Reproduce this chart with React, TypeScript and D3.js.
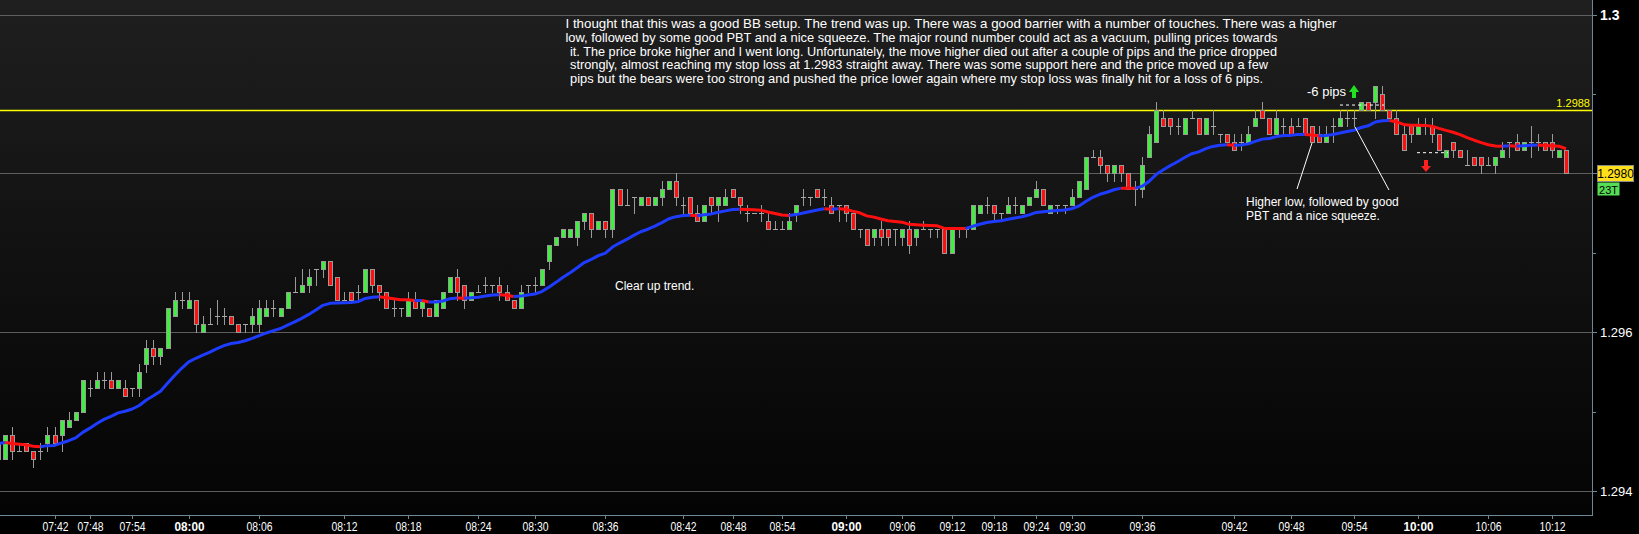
import React from "react";
import * as d3 from "d3";

// ---------- DATA (EUR/USD, 23-tick candles) ----------
const opens = [
  1.2944,1.2944,1.2947,1.2945,1.2946,1.2945,1.2945,1.2946,1.2947,1.2947,
  1.2948,1.2949,1.2950,1.2953,1.2953,1.2954,1.2954,1.2953,1.2953,1.2953,
  1.2953,1.2956,1.2958,1.2957,1.2958,1.2962,1.2964,1.2963,1.2964,1.2960,
  1.2961,1.2962,1.2962,1.2962,1.2961,1.2961,1.2961,1.2961,1.2962,1.2963,
  1.2962,1.2963,1.2965,1.2965,1.2966,1.2968,1.2968,1.2969,1.2967,1.2964,
  1.2965,1.2965,1.2965,1.2968,1.2966,1.2965,1.2963,1.2963,1.2962,1.2964,
  1.2963,1.2963,1.2962,1.2963,1.2965,1.2967,1.2966,1.2964,1.2965,1.2966,
  1.2966,1.2966,1.2965,1.2964,1.2963,1.2966,1.2966,1.2966,1.2969,1.2971,
  1.2972,1.2972,1.2972,1.2974,1.2975,1.2973,1.2974,1.2973,1.2978,1.2976,
  1.2977,1.2976,1.2977,1.2976,1.2977,1.2978,1.2979,1.2976,1.2977,1.2975,
  1.2974,1.2977,1.2976,1.2976,1.2978,1.2977,1.2975,1.2975,1.2975,1.2974,
  1.2973,1.2973,1.2973,1.2975,1.2977,1.2977,1.2978,1.2977,1.2976,1.2976,
  1.2976,1.2975,1.2973,1.2973,1.2972,1.2973,1.2973,1.2973,1.2972,1.2973,
  1.2972,1.2973,1.2973,1.2973,1.2973,1.2970,1.2973,1.2973,1.2973,1.2975,
  1.2976,1.2976,1.2975,1.2975,1.2976,1.2975,1.2976,1.2977,1.2978,1.2975,
  1.2976,1.2976,1.2976,1.2977,1.2978,1.2982,1.2982,1.2981,1.2980,1.2981,
  1.2980,1.2978,1.2978,1.2982,1.2984,1.2987,1.2987,1.2986,1.2985,1.2987,
  1.2987,1.2985,1.2986,1.2985,1.2985,1.2984,1.2984,1.2984,1.2986,1.2988,
  1.2987,1.2985,1.2986,1.2986,1.2986,1.2987,1.2986,1.2985,1.2984,1.2986,
  1.2986,1.2987,1.2987,1.2988,1.2989,1.2989,1.2990,1.2988,1.2987,1.2985,
  1.2986,1.2985,1.2986,1.2986,1.2985,1.2982,1.2984,1.2983,1.2981,1.2982,
  1.2982,1.2981,1.2981,1.2982,1.2984,1.2984,1.2983,1.2984,1.2984,1.2984,1.2984,1.2982,1.2983,
];
const highs = [
  1.2948,1.2947,1.2948,1.2946,1.2946,1.2945,1.2946,1.2948,1.2948,1.2949,
  1.2950,1.2950,1.2954,1.2954,1.2955,1.2955,1.2955,1.2954,1.2954,1.2953,
  1.2956,1.2959,1.2959,1.2958,1.2963,1.2965,1.2965,1.2965,1.2964,1.2962,
  1.2963,1.2964,1.2963,1.2962,1.2961,1.2961,1.2963,1.2964,1.2964,1.2964,
  1.2963,1.2965,1.2967,1.2968,1.2968,1.2968,1.2969,1.2969,1.2967,1.2965,
  1.2965,1.2966,1.2968,1.2968,1.2966,1.2965,1.2964,1.2963,1.2965,1.2965,
  1.2964,1.2963,1.2964,1.2965,1.2967,1.2968,1.2966,1.2965,1.2966,1.2967,
  1.2966,1.2967,1.2966,1.2964,1.2966,1.2966,1.2967,1.2968,1.2971,1.2972,
  1.2973,1.2973,1.2974,1.2975,1.2975,1.2974,1.2974,1.2978,1.2978,1.2978,
  1.2977,1.2977,1.2977,1.2977,1.2979,1.2979,1.2980,1.2977,1.2977,1.2976,
  1.2976,1.2977,1.2977,1.2978,1.2978,1.2977,1.2976,1.2975,1.2976,1.2975,
  1.2974,1.2974,1.2975,1.2976,1.2978,1.2977,1.2978,1.2978,1.2977,1.2976,
  1.2976,1.2975,1.2973,1.2973,1.2973,1.2974,1.2973,1.2973,1.2973,1.2974,
  1.2973,1.2974,1.2973,1.2973,1.2973,1.2973,1.2973,1.2973,1.2976,1.2976,
  1.2977,1.2976,1.2975,1.2977,1.2977,1.2976,1.2977,1.2979,1.2978,1.2976,
  1.2976,1.2976,1.2978,1.2979,1.2982,1.2983,1.2983,1.2981,1.2981,1.2981,
  1.2980,1.2979,1.2982,1.2986,1.2989,1.2988,1.2987,1.2987,1.2987,1.2988,
  1.2987,1.2987,1.2988,1.2985,1.2985,1.2985,1.2985,1.2986,1.2988,1.2989,
  1.2987,1.2988,1.2987,1.2987,1.2987,1.2987,1.2986,1.2986,1.2986,1.2987,
  1.2988,1.2988,1.2988,1.2989,1.2989,1.2991,1.2991,1.2988,1.2988,1.2986,
  1.2986,1.2987,1.2987,1.2987,1.2985,1.2983,1.2984,1.2983,1.2983,1.2982,
  1.2982,1.2982,1.2982,1.2984,1.2984,1.2985,1.2984,1.2986,1.2985,1.2984,1.2985,1.2983,1.2983,
];
const lows = [
  1.2944,1.2944,1.2944,1.2945,1.2945,1.2943,1.2944,1.2945,1.2946,1.2945,
  1.2948,1.2949,1.2950,1.2952,1.2953,1.2953,1.2953,1.2953,1.2952,1.2952,
  1.2952,1.2955,1.2956,1.2956,1.2958,1.2962,1.2963,1.2963,1.2960,1.2960,
  1.2961,1.2961,1.2961,1.2961,1.2960,1.2960,1.2960,1.2960,1.2962,1.2962,
  1.2962,1.2963,1.2965,1.2965,1.2965,1.2966,1.2967,1.2966,1.2964,1.2964,
  1.2964,1.2964,1.2965,1.2965,1.2964,1.2963,1.2962,1.2962,1.2962,1.2963,
  1.2962,1.2962,1.2962,1.2963,1.2965,1.2964,1.2963,1.2964,1.2965,1.2965,
  1.2965,1.2964,1.2964,1.2963,1.2963,1.2965,1.2965,1.2966,1.2968,1.2971,
  1.2972,1.2972,1.2971,1.2973,1.2972,1.2973,1.2972,1.2972,1.2976,1.2976,
  1.2975,1.2976,1.2976,1.2976,1.2976,1.2978,1.2976,1.2975,1.2975,1.2974,
  1.2974,1.2975,1.2974,1.2976,1.2977,1.2975,1.2974,1.2975,1.2974,1.2973,
  1.2973,1.2973,1.2973,1.2974,1.2976,1.2976,1.2977,1.2976,1.2975,1.2974,
  1.2974,1.2973,1.2972,1.2971,1.2971,1.2971,1.2971,1.2971,1.2971,1.2970,
  1.2971,1.2973,1.2972,1.2972,1.2970,1.2970,1.2972,1.2972,1.2973,1.2975,
  1.2975,1.2974,1.2974,1.2975,1.2975,1.2975,1.2976,1.2977,1.2976,1.2975,
  1.2975,1.2975,1.2976,1.2977,1.2978,1.2982,1.2980,1.2979,1.2979,1.2979,
  1.2978,1.2976,1.2977,1.2982,1.2984,1.2986,1.2985,1.2985,1.2985,1.2987,
  1.2985,1.2985,1.2985,1.2984,1.2984,1.2983,1.2983,1.2984,1.2986,1.2987,
  1.2985,1.2985,1.2985,1.2985,1.2986,1.2985,1.2984,1.2984,1.2984,1.2984,
  1.2986,1.2986,1.2986,1.2988,1.2988,1.2987,1.2988,1.2987,1.2985,1.2983,
  1.2984,1.2985,1.2985,1.2984,1.2983,1.2982,1.2982,1.2982,1.2981,1.2981,
  1.2980,1.2981,1.2980,1.2982,1.2982,1.2983,1.2983,1.2982,1.2983,1.2983,1.2982,1.2982,1.2980,
];
const closes = [
  1.2946,1.2947,1.2945,1.2945,1.2945,1.2944,1.2945,1.2947,1.2946,1.2949,
  1.2949,1.2950,1.2954,1.2953,1.2954,1.2954,1.2953,1.2954,1.2952,1.2953,
  1.2955,1.2958,1.2957,1.2958,1.2963,1.2964,1.2964,1.2964,1.2961,1.2961,
  1.2961,1.2962,1.2962,1.2961,1.2960,1.2961,1.2962,1.2963,1.2963,1.2963,
  1.2963,1.2965,1.2965,1.2966,1.2967,1.2968,1.2969,1.2966,1.2964,1.2964,
  1.2964,1.2965,1.2968,1.2966,1.2965,1.2963,1.2963,1.2963,1.2964,1.2963,
  1.2964,1.2962,1.2964,1.2965,1.2967,1.2965,1.2964,1.2965,1.2965,1.2966,
  1.2966,1.2965,1.2964,1.2963,1.2965,1.2966,1.2966,1.2968,1.2971,1.2972,
  1.2973,1.2973,1.2974,1.2975,1.2973,1.2974,1.2973,1.2978,1.2976,1.2976,
  1.2977,1.2977,1.2976,1.2977,1.2978,1.2979,1.2977,1.2976,1.2975,1.2974,
  1.2976,1.2976,1.2977,1.2977,1.2977,1.2976,1.2975,1.2975,1.2975,1.2973,
  1.2973,1.2973,1.2974,1.2976,1.2977,1.2977,1.2977,1.2977,1.2975,1.2976,
  1.2975,1.2973,1.2973,1.2971,1.2973,1.2972,1.2972,1.2973,1.2973,1.2971,
  1.2973,1.2973,1.2973,1.2973,1.2970,1.2973,1.2973,1.2973,1.2976,1.2976,
  1.2976,1.2975,1.2975,1.2976,1.2976,1.2976,1.2977,1.2978,1.2976,1.2976,
  1.2976,1.2976,1.2977,1.2979,1.2982,1.2982,1.2981,1.2980,1.2981,1.2980,
  1.2978,1.2978,1.2981,1.2985,1.2988,1.2986,1.2986,1.2986,1.2987,1.2987,
  1.2985,1.2987,1.2986,1.2985,1.2984,1.2983,1.2984,1.2985,1.2987,1.2987,
  1.2985,1.2987,1.2986,1.2985,1.2986,1.2985,1.2984,1.2984,1.2985,1.2986,
  1.2987,1.2987,1.2987,1.2989,1.2988,1.2991,1.2988,1.2987,1.2985,1.2983,
  1.2985,1.2986,1.2986,1.2985,1.2983,1.2983,1.2983,1.2982,1.2981,1.2981,
  1.2981,1.2981,1.2982,1.2983,1.2984,1.2983,1.2984,1.2984,1.2984,1.2983,1.2983,1.2983,1.2980,
];

const timeTickIndex = [8,13,19,27,37,49,58,68,76,86,97,104,111,120,128,135,141,147,152,162,175,183,192,201,211,220];
const timeTickLabels = ["07:42","07:48","07:54","08:00","08:06","08:12","08:18","08:24","08:30","08:36","08:42","08:48","08:54","09:00","09:06","09:12","09:18","09:24","09:30","09:36","09:42","09:48","09:54","10:00","10:06","10:12"];
const boldTimeLabels = ["08:00","09:00","10:00"];

const gridLevels = [1.294, 1.296, 1.298, 1.3];
const labelledLevels = [1.294, 1.296];
const boldLevel = 1.3;
const minorLevels = [1.295, 1.297, 1.299];
const barrierLevel = 1.2988;
const entryLevel = 1.29886;
const dipLevel = 1.29826;
const emaPeriod = 20;
const tickCountLabel = "23T";

const noteLines = [
  "I thought that this was a good BB setup. The trend was up. There was a good barrier with a number of touches. There was a higher",
  "low, followed by some good PBT and a nice squeeze. The major round number could act as a vacuum, pulling prices towards",
  "it. The price broke higher and I went long. Unfortunately, the move higher died out after a couple of pips and the price dropped",
  "strongly, almost reaching my stop loss at 1.2983 straight away. There was some support here and the price moved up a few",
  "pips but the bears were too strong and pushed the price lower again where my stop loss was finally hit for a loss of 6 pips.",
];
const noteLayout = [
  { x: 565.5, w: 771 },
  { x: 565.5, w: 712 },
  { x: 570, w: 707 },
  { x: 570, w: 698 },
  { x: 570, w: 693 },
];

const W = 1639;
const H = 534;
const AXIS_X = 1592;
const AXIS_Y = 515;

export default function App() {
  const n = closes.length;
  const x = d3.scaleLinear().domain([0, n - 1]).range([-2, 1566]);
  const y = d3.scaleLinear().domain([1.294, 1.3]).range([491, 14.5]);

  const alpha = 2 / (emaPeriod + 1);
  const ema: number[] = [];
  closes.forEach((c, i) => {
    ema.push(i === 0 ? c : ema[i - 1] + alpha * (c - ema[i - 1]));
  });
  const runs: { color: string; pts: [number, number][] }[] = [];
  for (let i = 1; i < n; i++) {
    const color = ema[i] >= ema[i - 1] ? "#1e3cff" : "#ff1010";
    const p0: [number, number] = [x(i - 1), y(ema[i - 1])];
    const p1: [number, number] = [x(i), y(ema[i])];
    const last = runs[runs.length - 1];
    if (last && last.color === color) last.pts.push(p1);
    else runs.push({ color, pts: [p0, p1] });
  }
  const line = d3.line<[number, number]>();

  const axisColor = "#6d8796";
  const font = "'Liberation Sans', Arial, sans-serif";
  const lastClose = closes[n - 1];

  return (
    <div style={{ position: "absolute", left: 0, top: 0, width: W, height: H, background: "#000" }}>
      <svg width={W} height={H} style={{ display: "block" }}>
        <defs>
          <linearGradient id="bg" x1="0" y1="0" x2="0" y2="1">
            <stop offset="0" stopColor="#1f1f1f" />
            <stop offset="0.5" stopColor="#111111" />
            <stop offset="1" stopColor="#040404" />
          </linearGradient>
          <clipPath id="plot">
            <rect x={0} y={0} width={AXIS_X} height={AXIS_Y} />
          </clipPath>
        </defs>
        <rect x={0} y={0} width={W} height={H} fill="#000" />
        <rect x={0} y={0} width={AXIS_X} height={AXIS_Y} fill="url(#bg)" />

        {gridLevels.map((v) => (
          <line key={v} x1={0} x2={AXIS_X} y1={Math.round(y(v)) + 0.5} y2={Math.round(y(v)) + 0.5} stroke="#5e5e5e" strokeWidth={1} />
        ))}
        <line x1={0} x2={AXIS_X} y1={Math.round(y(barrierLevel)) + 0.5} y2={Math.round(y(barrierLevel)) + 0.5} stroke="#ffff00" strokeWidth={1.4} />
        <text x={1590} y={y(barrierLevel) - 3} fill="#ffff00" fontFamily={font} fontSize={11} textAnchor="end">
          {barrierLevel.toFixed(4)}
        </text>

        <g clipPath="url(#plot)" shapeRendering="crispEdges">
          {closes.map((c, i) => {
            const o = opens[i];
            const cx = Math.round(x(i));
            const yo = y(o);
            const yc = y(c);
            const top = Math.round(Math.min(yo, yc));
            const bot = Math.round(Math.max(yo, yc));
            const doji = Math.abs(o - c) < 1e-9;
            return (
              <g key={i}>
                <line x1={cx + 0.5} x2={cx + 0.5} y1={Math.round(y(highs[i]))} y2={Math.round(y(lows[i])) + 1} stroke="#9a9a9a" strokeWidth={1} />
                {doji ? (
                  <line x1={cx - 2} x2={cx + 3} y1={Math.round(yo) + 0.5} y2={Math.round(yo) + 0.5} stroke="#a8a8a8" strokeWidth={1} />
                ) : (
                  <rect x={cx - 1.5} y={top + 0.5} width={4} height={bot - top} fill={c > o ? "#3cf03c" : "#ff1010"} stroke="#9a9a9a" strokeWidth={1} />
                )}
              </g>
            );
          })}
        </g>

        <g clipPath="url(#plot)">
          {runs.map((r, k) => (
            <path key={k} d={line(r.pts) || ""} fill="none" stroke={r.color} strokeWidth={3} strokeLinejoin="round" />
          ))}
        </g>

        <line x1={AXIS_X + 0.5} x2={AXIS_X + 0.5} y1={0} y2={AXIS_Y + 1} stroke={axisColor} strokeWidth={1} />
        <line x1={0} x2={AXIS_X + 1} y1={AXIS_Y + 0.5} y2={AXIS_Y + 0.5} stroke={axisColor} strokeWidth={1} />
        {gridLevels.map((v) => (
          <line key={"t" + v} x1={AXIS_X} x2={AXIS_X + 5} y1={Math.round(y(v)) + 0.5} y2={Math.round(y(v)) + 0.5} stroke={axisColor} />
        ))}
        {minorLevels.map((v) => (
          <line key={"m" + v} x1={AXIS_X} x2={AXIS_X + 4} y1={Math.round(y(v)) + 0.5} y2={Math.round(y(v)) + 0.5} stroke={axisColor} />
        ))}
        {labelledLevels.map((v) => (
          <text key={"l" + v} x={1600} y={y(v) + 5} fill="#ffffff" fontFamily={font} fontSize={13}>
            {String(v)}
          </text>
        ))}
        <text x={1600} y={y(boldLevel) + 5} fill="#ffffff" fontFamily={font} fontSize={14} fontWeight="bold">
          {String(boldLevel)}
        </text>

        {timeTickIndex.map((idx, k) => {
          const tx = Math.round(x(idx)) + 0.5;
          const lbl = timeTickLabels[k];
          const bold = boldTimeLabels.includes(lbl);
          return (
            <g key={lbl}>
              <line x1={tx} x2={tx} y1={AXIS_Y} y2={AXIS_Y + 4} stroke={axisColor} />
              <text x={tx} y={531} fill="#ffffff" fontFamily={font} fontSize={bold ? 13 : 12} fontWeight={bold ? "bold" : "normal"} textAnchor="middle" textLength={bold ? 30 : 26} lengthAdjust="spacingAndGlyphs">
                {lbl}
              </text>
            </g>
          );
        })}

        <rect x={1597.5} y={165.5} width={36} height={16} fill="#ffe01a" stroke="#8a8a8a" />
        <text x={1615.5} y={178} fill="#000" fontFamily={font} fontSize={12} textAnchor="middle">
          {lastClose.toFixed(4)}
        </text>
        <rect x={1597.5} y={182.5} width={22} height={13} fill="#55dd55" />
        <text x={1608.5} y={193.5} fill="#000" fontFamily={font} fontSize={11} textAnchor="middle">
          {tickCountLabel}
        </text>

        {noteLines.map((t, k) => (
          <text key={k} x={noteLayout[k].x} y={28 + k * 13.8} fill="#ffffff" fontFamily={font} fontSize={13} textLength={noteLayout[k].w} lengthAdjust="spacingAndGlyphs">
            {t}
          </text>
        ))}

        <text x={615} y={290} fill="#ffffff" fontFamily={font} fontSize={12}>Clear up trend.</text>
        <text x={1246} y={206} fill="#ffffff" fontFamily={font} fontSize={12}>Higher low, followed by good</text>
        <text x={1246} y={220} fill="#ffffff" fontFamily={font} fontSize={12}>PBT and a nice squeeze.</text>
        <line x1={1297} y1={189} x2={1312} y2={143} stroke="#ffffff" strokeWidth={1} />
        <line x1={1355} y1={127} x2={1389} y2={190} stroke="#ffffff" strokeWidth={1} />

        <text x={1307} y={96} fill="#ffffff" fontFamily={font} fontSize={13}>-6 pips</text>
        <path d="M1349,92 L1354,85 L1359,92 L1356,92 L1356,98 L1352,98 L1352,92 Z" fill="#22e022" />
        <line x1={1340} x2={1384} y1={y(entryLevel)} y2={y(entryLevel)} stroke="#ffffff" strokeDasharray="3,3" />
        <line x1={1417} x2={1448} y1={y(dipLevel)} y2={y(dipLevel)} stroke="#ffffff" strokeDasharray="3,3" />
        <path d="M1424,160 L1428,160 L1428,166 L1431,166 L1426,172 L1421,166 L1424,166 Z" fill="#ff2020" />
      </svg>
    </div>
  );
}
